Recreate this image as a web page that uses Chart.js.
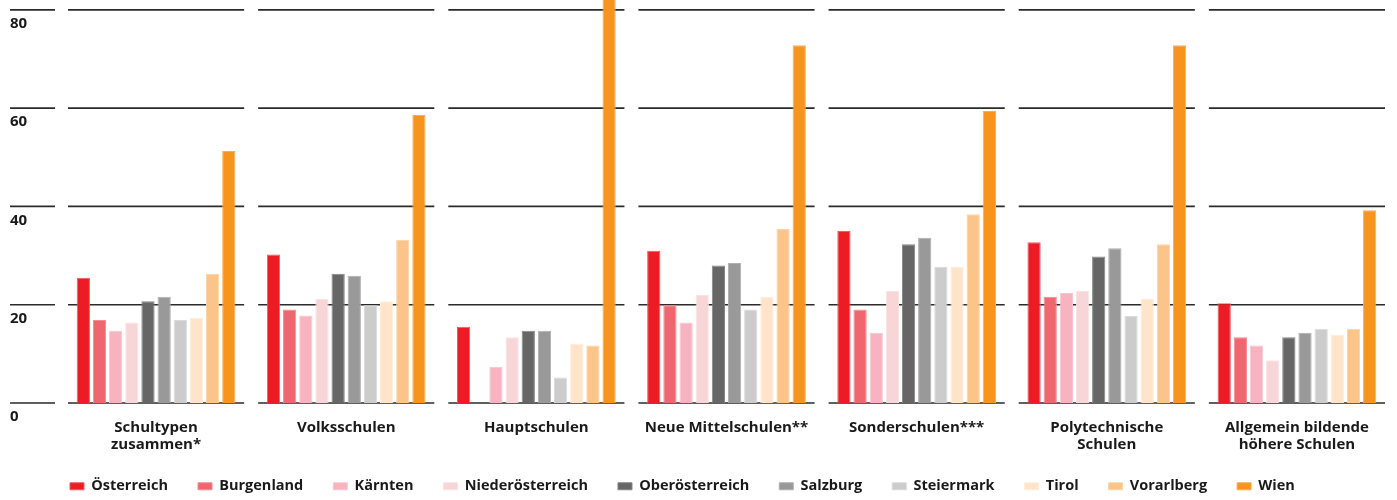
<!DOCTYPE html>
<html>
<head>
<meta charset="utf-8">
<script src="https://cdn.jsdelivr.net/npm/chart.js@4.4.1/dist/chart.umd.min.js"></script>
<style>
  html, body { margin: 0; padding: 0; background: #fff; }
  #wrap { width: 1397px; height: 500px; }
</style>
</head>
<body>
<div id="wrap"><canvas id="chart"></canvas></div>
<script>
const schoolTypes = [
  ["Schultypen", "zusammen*"],
  "Volksschulen",
  "Hauptschulen",
  "Neue Mittelschulen**",
  "Sonderschulen***",
  ["Polytechnische", "Schulen"],
  ["Allgemein bildende", "höhere Schulen"]
];

const regions = ["Österreich", "Burgenland", "Kärnten", "Niederösterreich", "Oberösterreich",
  "Salzburg", "Steiermark", "Tirol", "Vorarlberg", "Wien"];

const fillColors = ["#ed1c24", "#f0666f", "#f7b3c0", "#f8d5d7", "#666666",
  "#999999", "#cccccc", "#ffe4c9", "#fbc489", "#f7941d"];
const edgeColors = ["#f25a60", "#f48b92", "#f9c6d0", "#fae2e3", "#858585",
  "#b0b0b0", "#dadada", "#ffeedd", "#fcd4a8", "#f9ad55"];

// one array per Bundesland, one value per school type
const oesterreich      = [25.5, 30.2, 15.5, 31.0, 35.0, 32.7, 20.3];
const burgenland       = [16.9, 19.0, null, 19.9, 19.0, 21.6, 13.4];
const kaernten         = [14.7, 17.8,  7.4, 16.4, 14.3, 22.4, 11.7];
const niederoesterreich= [16.4, 21.2, 13.4, 22.0, 22.8, 22.8,  8.7];
const oberoesterreich  = [20.7, 26.3, 14.7, 28.0, 32.3, 29.8, 13.4];
const salzburg         = [21.6, 25.9, 14.7, 28.5, 33.6, 31.5, 14.3];
const steiermark       = [16.9, 19.9,  5.2, 19.0, 27.7, 17.7, 15.1];
const tirol            = [17.3, 20.7, 12.1, 21.6, 27.7, 21.2, 13.9];
const vorarlberg       = [26.3, 33.2, 11.7, 35.4, 38.4, 32.3, 15.1];
const wien             = [51.3, 58.6, 86.0, 72.8, 59.4, 72.8, 39.2];

const yTicks = [0, 20, 40, 60, 80];

const series = [oesterreich, burgenland, kaernten, niederoesterreich, oberoesterreich,
  salzburg, steiermark, tirol, vorarlberg, wien];

const FONT = "'Open Sans', sans-serif";

// horizontal rules broken up per school type, plus the value labels on the left
const segmentGrid = {
  id: "segmentGrid",
  beforeDatasetsDraw(chart) {
    const { ctx, chartArea, scales: { x, y } } = chart;
    const catW = chartArea.width / chart.data.labels.length;
    ctx.save();
    ctx.strokeStyle = "#2b2b2b";
    ctx.lineWidth = 1.6;
    ctx.fillStyle = "#1a1a1a";
    ctx.font = "bold 15px " + FONT;
    ctx.textAlign = "left";
    ctx.textBaseline = "middle";
    yTicks.forEach(v => {
      const py = y.getPixelForValue(v);
      ctx.beginPath();
      ctx.moveTo(10, py);
      ctx.lineTo(chartArea.left - 6, py);
      chart.data.labels.forEach((_, i) => {
        const c = x.getPixelForValue(i);
        ctx.moveTo(c - catW / 2 + 7, py);
        ctx.lineTo(c + catW / 2 - 7, py);
      });
      ctx.stroke();
      ctx.fillText(String(v), 10, py + 14);
    });
    ctx.restore();
  }
};

new Chart(document.getElementById("chart"), {
  type: "bar",
  data: {
    labels: schoolTypes,
    datasets: regions.map((name, i) => ({
      label: name,
      data: series[i],
      backgroundColor: fillColors[i],
      borderColor: edgeColors[i],
      borderWidth: 1,
      categoryPercentage: 0.85,
      barPercentage: 0.82
    }))
  },
  options: {
    responsive: true,
    maintainAspectRatio: false,
    animation: false,
    layout: { padding: { left: 40, right: 5, top: 0, bottom: 0 } },
    plugins: {
      tooltip: { enabled: false },
      legend: {
        position: "bottom",
        align: "start",
        maxHeight: 51,
        labels: {
          boxWidth: 14,
          boxHeight: 7,
          padding: 30,
          color: "#1a1a1a",
          font: { family: FONT, size: 14.5, weight: "bold" }
        }
      }
    },
    scales: {
      x: {
        grid: { display: false, drawTicks: false },
        border: { display: false },
        ticks: {
          color: "#1a1a1a",
          padding: 16,
          maxRotation: 0,
          autoSkip: false,
          font: { family: FONT, size: 15, weight: "bold", lineHeight: 1.16 }
        },
        afterFit(scale) { scale.height = 46; }
      },
      y: {
        min: 0,
        max: 82,
        grid: { display: false, drawTicks: false },
        border: { display: false },
        ticks: { display: false, stepSize: 20, includeBounds: false },
        afterFit(scale) { scale.width = 21; }
      }
    }
  },
  plugins: [segmentGrid]
});
</script>
</body>
</html>
